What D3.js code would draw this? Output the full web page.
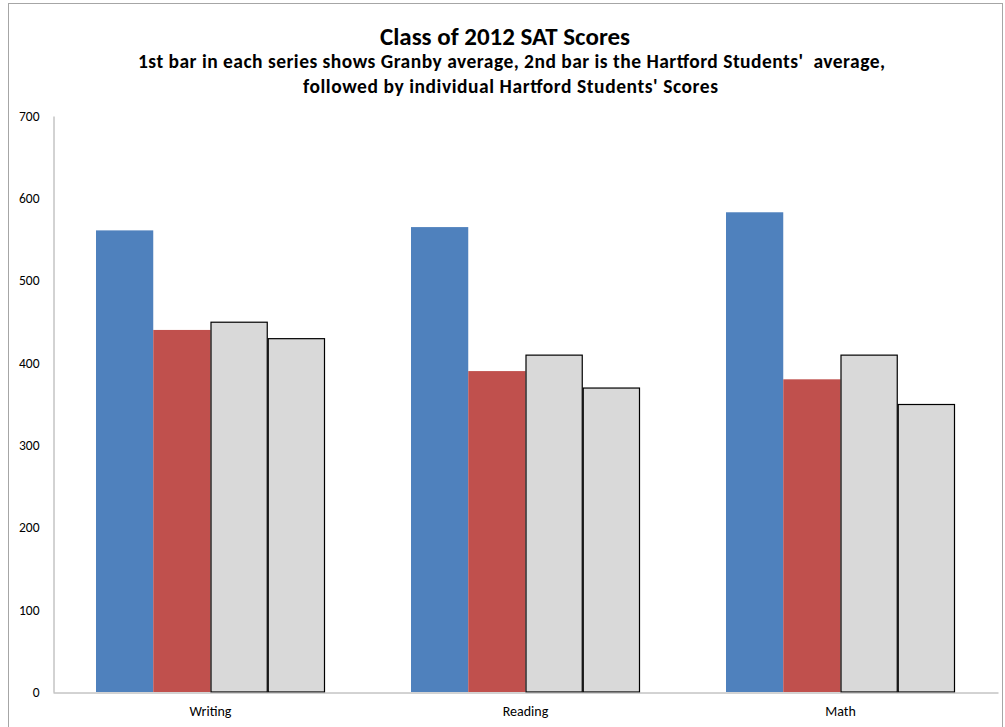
<!DOCTYPE html>
<html><head><meta charset="utf-8">
<script src="https://cdn.jsdelivr.net/npm/d3@7"></script>
<style>body{margin:0;background:#fff}svg{display:block}</style>
</head><body><svg id="c" width="1005" height="727"></svg>
<script>
const categories = ["Writing", "Reading", "Math"];
const seriesNames = ["Granby average", "Hartford average", "Student 1", "Student 2"];
const granbyAvg = [561, 565, 583];
const hartfordAvg = [440, 390, 380];
const student1 = [450, 410, 410];
const student2 = [430, 370, 350];
const yTicks = [0, 100, 200, 300, 400, 500, 600, 700];
const colors = ["#4F81BD", "#C0504D", "#D9D9D9", "#D9D9D9"];
const strokes = ["none", "none", "#000", "#000"];

(function () {
const series = [granbyAvg, hartfordAvg, student1, student2];
const svg = d3.select("#c");
const font = "Carlito, Lato, sans-serif";

svg.append("rect").attr("x", 8.5).attr("y", 3.5).attr("width", 994).attr("height", 760)
  .attr("fill", "#fff").attr("stroke", "#a6a6a6");

const mLeft = 53, mRight = 998, mTop = 116, mBottom = 692;
const x = d3.scaleBand().domain(categories).range([mLeft, mRight]).paddingInner(0).paddingOuter(0);
const y = d3.scaleLinear().domain([0, 700]).range([mBottom, mTop]);
const groupPad = 43;
const x1 = d3.scaleBand().domain(d3.range(series.length))
  .range([groupPad, x.bandwidth() - groupPad]).padding(0);

const g = svg.append("g");
series.forEach((vals, si) => {
  const s = strokes[si] !== "none";
  g.selectAll(null).data(vals).enter().append("rect")
    .attr("x", (d, i) => x(categories[i]) + x1(si) + (s ? 0.5 : 0))
    .attr("y", d => y(d) + (s ? 0.5 : 0))
    .attr("width", x1.bandwidth() - (s ? 1 : 0))
    .attr("height", d => mBottom - y(d) - (s ? 0.5 : 0))
    .attr("fill", colors[si])
    .attr("stroke", strokes[si])
    .attr("stroke-width", 1.2);
});

const yAxis = d3.axisLeft(y).tickValues(yTicks).tickSize(0).tickPadding(14);
const ya = svg.append("g").attr("transform", `translate(${mLeft + 0.5},0)`).call(yAxis);
ya.select(".domain").attr("stroke", "#a6a6a6");
ya.selectAll("text").attr("font-family", font).attr("font-size", 13.5).attr("fill", "#000");

const xAxis = d3.axisBottom(x).tickSize(0).tickPadding(13.5);
const xa = svg.append("g").attr("transform", `translate(0,${mBottom + 0.5})`).call(xAxis);
xa.select(".domain").attr("stroke", "#a6a6a6");
xa.selectAll("text").attr("font-family", font).attr("font-size", 14).attr("fill", "#000");

svg.append("text").attr("x", 505).attr("y", 45).attr("text-anchor", "middle")
  .attr("font-family", font).attr("font-weight", "bold").attr("font-size", 25)
  .text("Class of 2012 SAT Scores");
svg.append("text").attr("x", 511.5).attr("y", 68).attr("text-anchor", "middle")
  .attr("font-family", font).attr("font-weight", "bold").attr("font-size", 19.5)
  .attr("textLength", 747).attr("lengthAdjust", "spacing")
  .style("white-space", "pre")
  .text("1st bar in each series shows Granby average, 2nd bar is the Hartford Students'  average,");
svg.append("text").attr("x", 510.5).attr("y", 93).attr("text-anchor", "middle")
  .attr("font-family", font).attr("font-weight", "bold").attr("font-size", 19.5)
  .attr("textLength", 415).attr("lengthAdjust", "spacing")
  .text("followed by individual Hartford Students' Scores");
})();
</script></body></html>
